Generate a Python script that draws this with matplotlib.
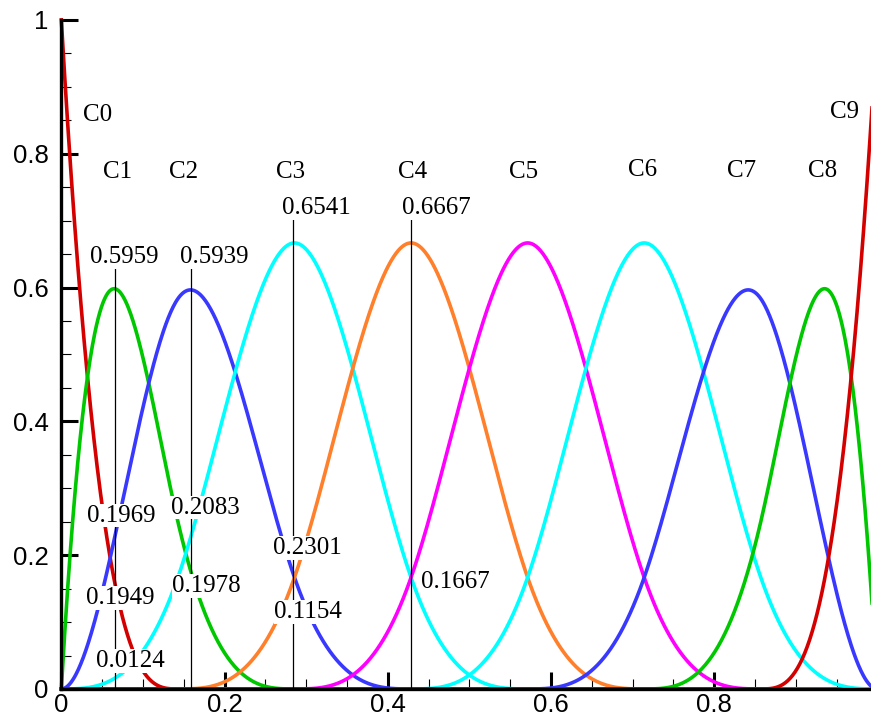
import numpy as np
import matplotlib.pyplot as plt
from matplotlib.ticker import MultipleLocator, FuncFormatter

# cubic B-spline basis, 10 functions, clamped knot vector read from the peaks
knots = [0, 0, 0, 0, 1/7, 2/7, 3/7, 4/7, 5/7, 6/7, 1, 1, 1, 1]
degree = 3

names = ["C0", "C1", "C2", "C3", "C4", "C5", "C6", "C7", "C8", "C9"]
colors = ["#d40000", "#00c800", "#3838ff", "#00ffff", "#ff7f2a",
          "#ff00ff", "#00ffff", "#3838ff", "#00c800", "#d40000"]
name_x = [0.026, 0.051, 0.132, 0.263, 0.412, 0.548, 0.695, 0.816, 0.915, 0.942]
name_y = [0.858, 0.773, 0.773, 0.773, 0.773, 0.773, 0.776, 0.774, 0.774, 0.862]

# vertical marker lines
mark_x = [0.066, 0.159, 0.2835, 0.429]
mark_top = [0.629, 0.629, 0.701, 0.701]

value_labels = ["0.5959", "0.5939", "0.6541", "0.6667",
                "0.1969", "0.2083", "0.2301",
                "0.1949", "0.1978", "0.1154",
                "0.0124", "0.1667"]
value_x = [0.0355, 0.146, 0.271, 0.417,
           0.032, 0.134, 0.259,
           0.030, 0.136, 0.261,
           0.0426, 0.441]
value_y = [0.646, 0.646, 0.719, 0.719,
           0.259, 0.271, 0.211,
           0.136, 0.154, 0.115,
           0.042, 0.160]


def basis(i, p, x):
    if p == 0:
        lo, hi = knots[i], knots[i + 1]
        if hi == knots[-1] and lo < hi:
            return ((x >= lo) & (x <= hi)).astype(float)
        return ((x >= lo) & (x < hi)).astype(float)
    out = np.zeros_like(x)
    d1 = knots[i + p] - knots[i]
    if d1 > 0:
        out += (x - knots[i]) / d1 * basis(i, p - 1, x)
    d2 = knots[i + p + 1] - knots[i + 1]
    if d2 > 0:
        out += (knots[i + p + 1] - x) / d2 * basis(i + 1, p - 1, x)
    return out


xs = np.linspace(0, 1, 1001)

fig = plt.figure(figsize=(8.71, 7.17), dpi=100)
ax = fig.add_axes([0.0704, 0.0391, 0.9369, 0.9331])

for i, c in enumerate(colors):
    ax.plot(xs, basis(i, degree, xs), color=c, lw=2.6, zorder=2, clip_on=False)

for x, top in zip(mark_x, mark_top):
    ax.plot([x, x], [0, top], color="black", lw=0.9, zorder=3)

serif = ["Liberation Serif", "DejaVu Serif"]
for n, x, y in zip(names, name_x, name_y):
    ax.text(x, y, n, fontsize=18, family=serif, ha="left", va="center", zorder=5)

for s, x, y in zip(value_labels, value_x, value_y):
    ax.text(x, y, s, fontsize=18, family=serif, ha="left", va="center", zorder=5,
            bbox=dict(facecolor="white", edgecolor="none", pad=0.5))

ax.set_xlim(0, 1)
ax.set_ylim(0, 1)
for side in ["top", "right"]:
    ax.spines[side].set_visible(False)
for side in ["left", "bottom"]:
    ax.spines[side].set_linewidth(2.4)
    ax.spines[side].set_zorder(6)

ax.xaxis.set_major_locator(MultipleLocator(0.2))
ax.xaxis.set_minor_locator(MultipleLocator(0.05))
ax.yaxis.set_major_locator(MultipleLocator(0.2))
ax.yaxis.set_minor_locator(MultipleLocator(0.05))
fmt = FuncFormatter(lambda v, _: f"{v:g}")
ax.xaxis.set_major_formatter(fmt)
ax.yaxis.set_major_formatter(fmt)
ax.tick_params(which="major", direction="in", length=12, width=2.2, labelsize=18.5)
ax.tick_params(which="minor", direction="in", length=7, width=0.8)
ax.tick_params(axis="x", which="major", pad=3)
ax.tick_params(axis="y", which="major", pad=9)
for lab in ax.get_xticklabels() + ax.get_yticklabels():
    lab.set_family(["Liberation Sans", "DejaVu Sans"])

fig.savefig("out.png", dpi=100)
